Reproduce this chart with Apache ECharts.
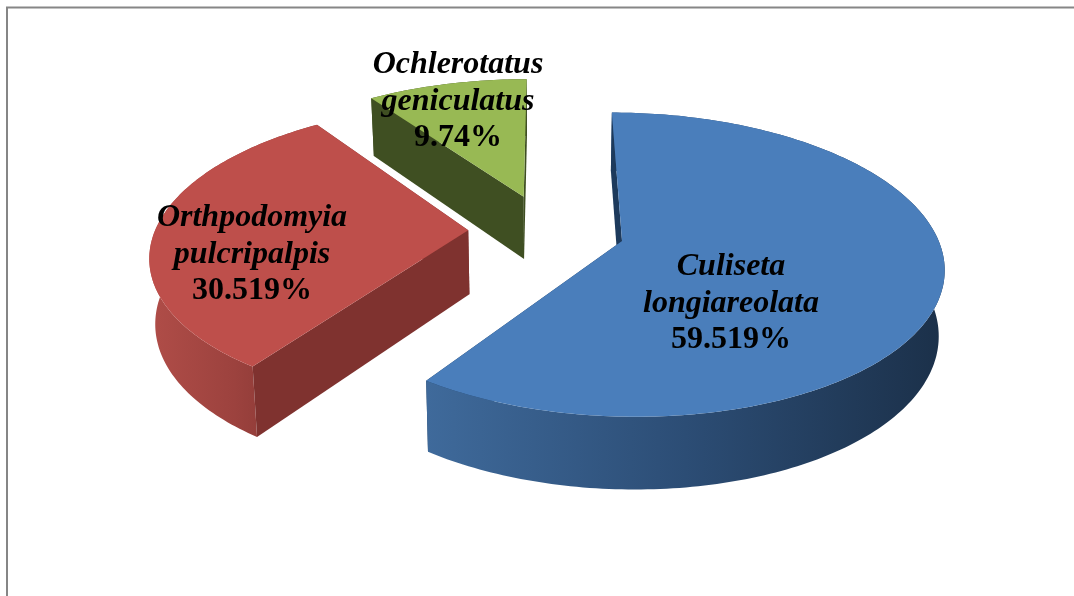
<!DOCTYPE html>
<html>
<head>
<meta charset="utf-8">
<title>Mosquito species share</title>
<script src="https://cdn.jsdelivr.net/npm/echarts@6/dist/echarts.min.js"></script>
<style>
  html, body { margin: 0; padding: 0; background: #fff; }
  #mychart { width: 1074px; height: 596px; }
</style>
</head>
<body>
<div id="mychart"></div>
<script>
var speciesLines = [
  ['Culiseta', 'longiareolata'],
  ['Orthpodomyia', 'pulcripalpis'],
  ['Ochlerotatus', 'geniculatus']
];
var speciesValues = [59.519, 30.519, 9.74];

var topColors = ['#4a7ebb', '#be4f4b', '#98b954'];
var edgeColors = ['#1d3a5c', '#7f322f', '#3f4f22'];
var wallStops = [
  ['#3f6a9b', '#2c4d75', '#1b3049'],
  ['#b04d48', '#9c423e', '#7f322f'],
  ['#3f4f22', '#3f4f22', '#3f4f22']
];
var labelCenters = [[731, 303], [252, 254], [458, 101]];

// projection of the tilted pie, the far side is smaller than the near side
var cam = {
  cx: 546.5, cy: 230, rx: 313, ry: 145, k: 0.154,
  explode: 0.25, startAngle: 0,
  depth: 64, bottomX: 0.985, bottomY: 1.047
};

function project(u, v, bottom) {
  var w = 1 - cam.k * v;
  var x = cam.rx * u / w;
  var y = cam.ry * v / w;
  if (bottom) {
    return [cam.cx + x * cam.bottomX, cam.cy + cam.depth + y * cam.bottomY];
  }
  return [cam.cx + x, cam.cy + y];
}

function renderSlice(params, api) {
  var i = params.dataIndex;
  var total = speciesValues.reduce(function (a, b) { return a + b; }, 0);
  var before = 0;
  for (var n = 0; n < i; n++) before += speciesValues[n];
  var a0 = cam.startAngle + before / total * 360;
  var a1 = a0 + api.value(0) / total * 360;
  var mid = (a0 + a1) / 2 * Math.PI / 180;
  var ou = cam.explode * Math.sin(mid);
  var ov = -cam.explode * Math.cos(mid);

  var rimTop = [];
  var rimBottom = [];
  for (var a = a0; a < a1 + 0.01; a += Math.min(1, a1 - a + 0.001)) {
    var r = a * Math.PI / 180;
    var u = ou + Math.sin(r);
    var v = ov - Math.cos(r);
    rimTop.push(project(u, v, false));
    rimBottom.push(project(u, v, true));
    if (a >= a1) break;
  }
  var apexTop = project(ou, ov, false);
  var apexBottom = project(ou, ov, true);
  var last = rimTop.length - 1;
  var stops = wallStops[i];

  return {
    type: 'group',
    children: [
      // wall at the end angle sits behind the outer wall, the one at the start angle in front
      {
        type: 'polygon',
        shape: { points: [apexTop, rimTop[last], rimBottom[last], apexBottom] },
        style: { fill: edgeColors[i] }
      },
      {
        type: 'polygon',
        shape: { points: rimTop.concat(rimBottom.slice().reverse()) },
        style: {
          fill: new echarts.graphic.LinearGradient(0, 0, 1, 0, [
            { offset: 0, color: stops[0] },
            { offset: 0.5, color: stops[1] },
            { offset: 1, color: stops[2] }
          ])
        }
      },
      {
        type: 'polygon',
        shape: { points: [apexTop, rimTop[0], rimBottom[0], apexBottom] },
        style: { fill: edgeColors[i] }
      },
      {
        type: 'polygon',
        shape: { points: [apexTop].concat(rimTop) },
        style: { fill: topColors[i] }
      }
    ]
  };
}

function renderLabel(params, api) {
  var i = params.dataIndex;
  var lines = speciesLines[i].map(function (s) { return '{name|' + s + '}'; });
  lines.push('{pct|' + api.value(0) + '%}');
  return {
    type: 'text',
    x: labelCenters[i][0],
    y: labelCenters[i][1],
    style: {
      text: lines.join('\n'),
      align: 'center',
      verticalAlign: 'middle',
      fill: '#000',
      rich: {
        name: { fontFamily: 'Liberation Serif', fontStyle: 'italic', fontWeight: 'bold', fontSize: 32, lineHeight: 37, fill: '#000', align: 'center' },
        pct: { fontFamily: 'Liberation Serif', fontWeight: 'bold', fontSize: 32, lineHeight: 36, fill: '#000', align: 'center' }
      }
    }
  };
}

var myChart = echarts.init(document.getElementById('mychart'));
myChart.setOption({
  animation: false,
  backgroundColor: '#fff',
  graphic: [
    { type: 'line', shape: { x1: 6, y1: 7.5, x2: 1074, y2: 7.5 }, style: { stroke: '#868686', lineWidth: 2 }, silent: true },
    { type: 'line', shape: { x1: 7, y1: 7, x2: 7, y2: 596 }, style: { stroke: '#868686', lineWidth: 2 }, silent: true }
  ],
  series: [
    { type: 'custom', coordinateSystem: 'none', silent: true, z: 1, renderItem: renderSlice, data: speciesValues },
    { type: 'custom', coordinateSystem: 'none', silent: true, z: 2, renderItem: renderLabel, data: speciesValues }
  ]
});
</script>
</body>
</html>
